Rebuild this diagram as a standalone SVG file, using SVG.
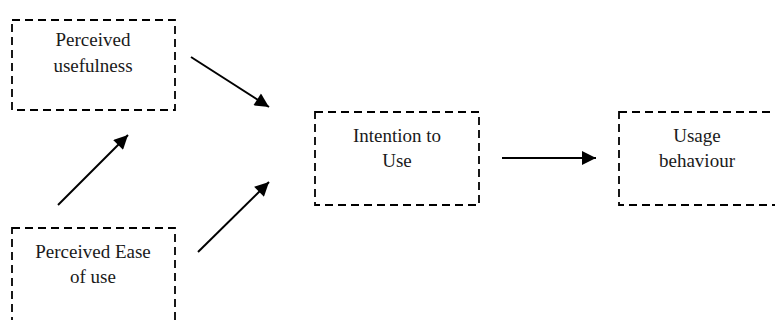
<svg xmlns="http://www.w3.org/2000/svg" width="775" height="320" viewBox="0 0 775 320">
  <style>
    .box { fill: none; stroke: #000; stroke-width: 1.8; stroke-dasharray: 8 5; }
    .lbl { font-size: 19px; fill: #1a1a1a; text-anchor: middle; }
    .edge { stroke: #000; stroke-width: 2; fill: none; marker-end: url(#head); }
  </style>
  <defs>
    <marker id="head" viewBox="0 0 10 10" refX="10" refY="5" markerWidth="8" markerHeight="7" markerUnits="strokeWidth" orient="auto">
      <path d="M0,0 L10,5 L0,10 Z" fill="#000"/>
    </marker>
  </defs>
  <rect width="775" height="320" fill="#fff"/>

  <g font-family="Liberation Serif, DejaVu Serif, serif">
    <g id="perceived-usefulness">
      <rect class="box" x="12" y="20" width="163" height="90"/>
      <text class="lbl" x="93" y="46">Perceived</text>
      <text class="lbl" x="93" y="72">usefulness</text>
    </g>

    <g id="perceived-ease">
      <rect class="box" x="12" y="228" width="163" height="100"/>
      <text class="lbl" x="93" y="258">Perceived Ease</text>
      <text class="lbl" x="93" y="283">of use</text>
    </g>

    <g id="intention">
      <rect class="box" x="315" y="112" width="164" height="93"/>
      <text class="lbl" x="397" y="142">Intention to</text>
      <text class="lbl" x="397" y="167">Use</text>
    </g>

    <g id="usage">
      <rect class="box" x="619" y="112" width="164" height="93"/>
      <text class="lbl" x="697" y="142">Usage</text>
      <text class="lbl" x="697" y="167">behaviour</text>
    </g>
  </g>

  <g id="connectors">
    <line class="edge" x1="191" y1="57" x2="269" y2="107"/>
    <line class="edge" x1="58" y1="205" x2="128" y2="135"/>
    <line class="edge" x1="198" y1="252" x2="269" y2="182"/>
    <line class="edge" x1="502" y1="158" x2="596" y2="158"/>
  </g>
</svg>
